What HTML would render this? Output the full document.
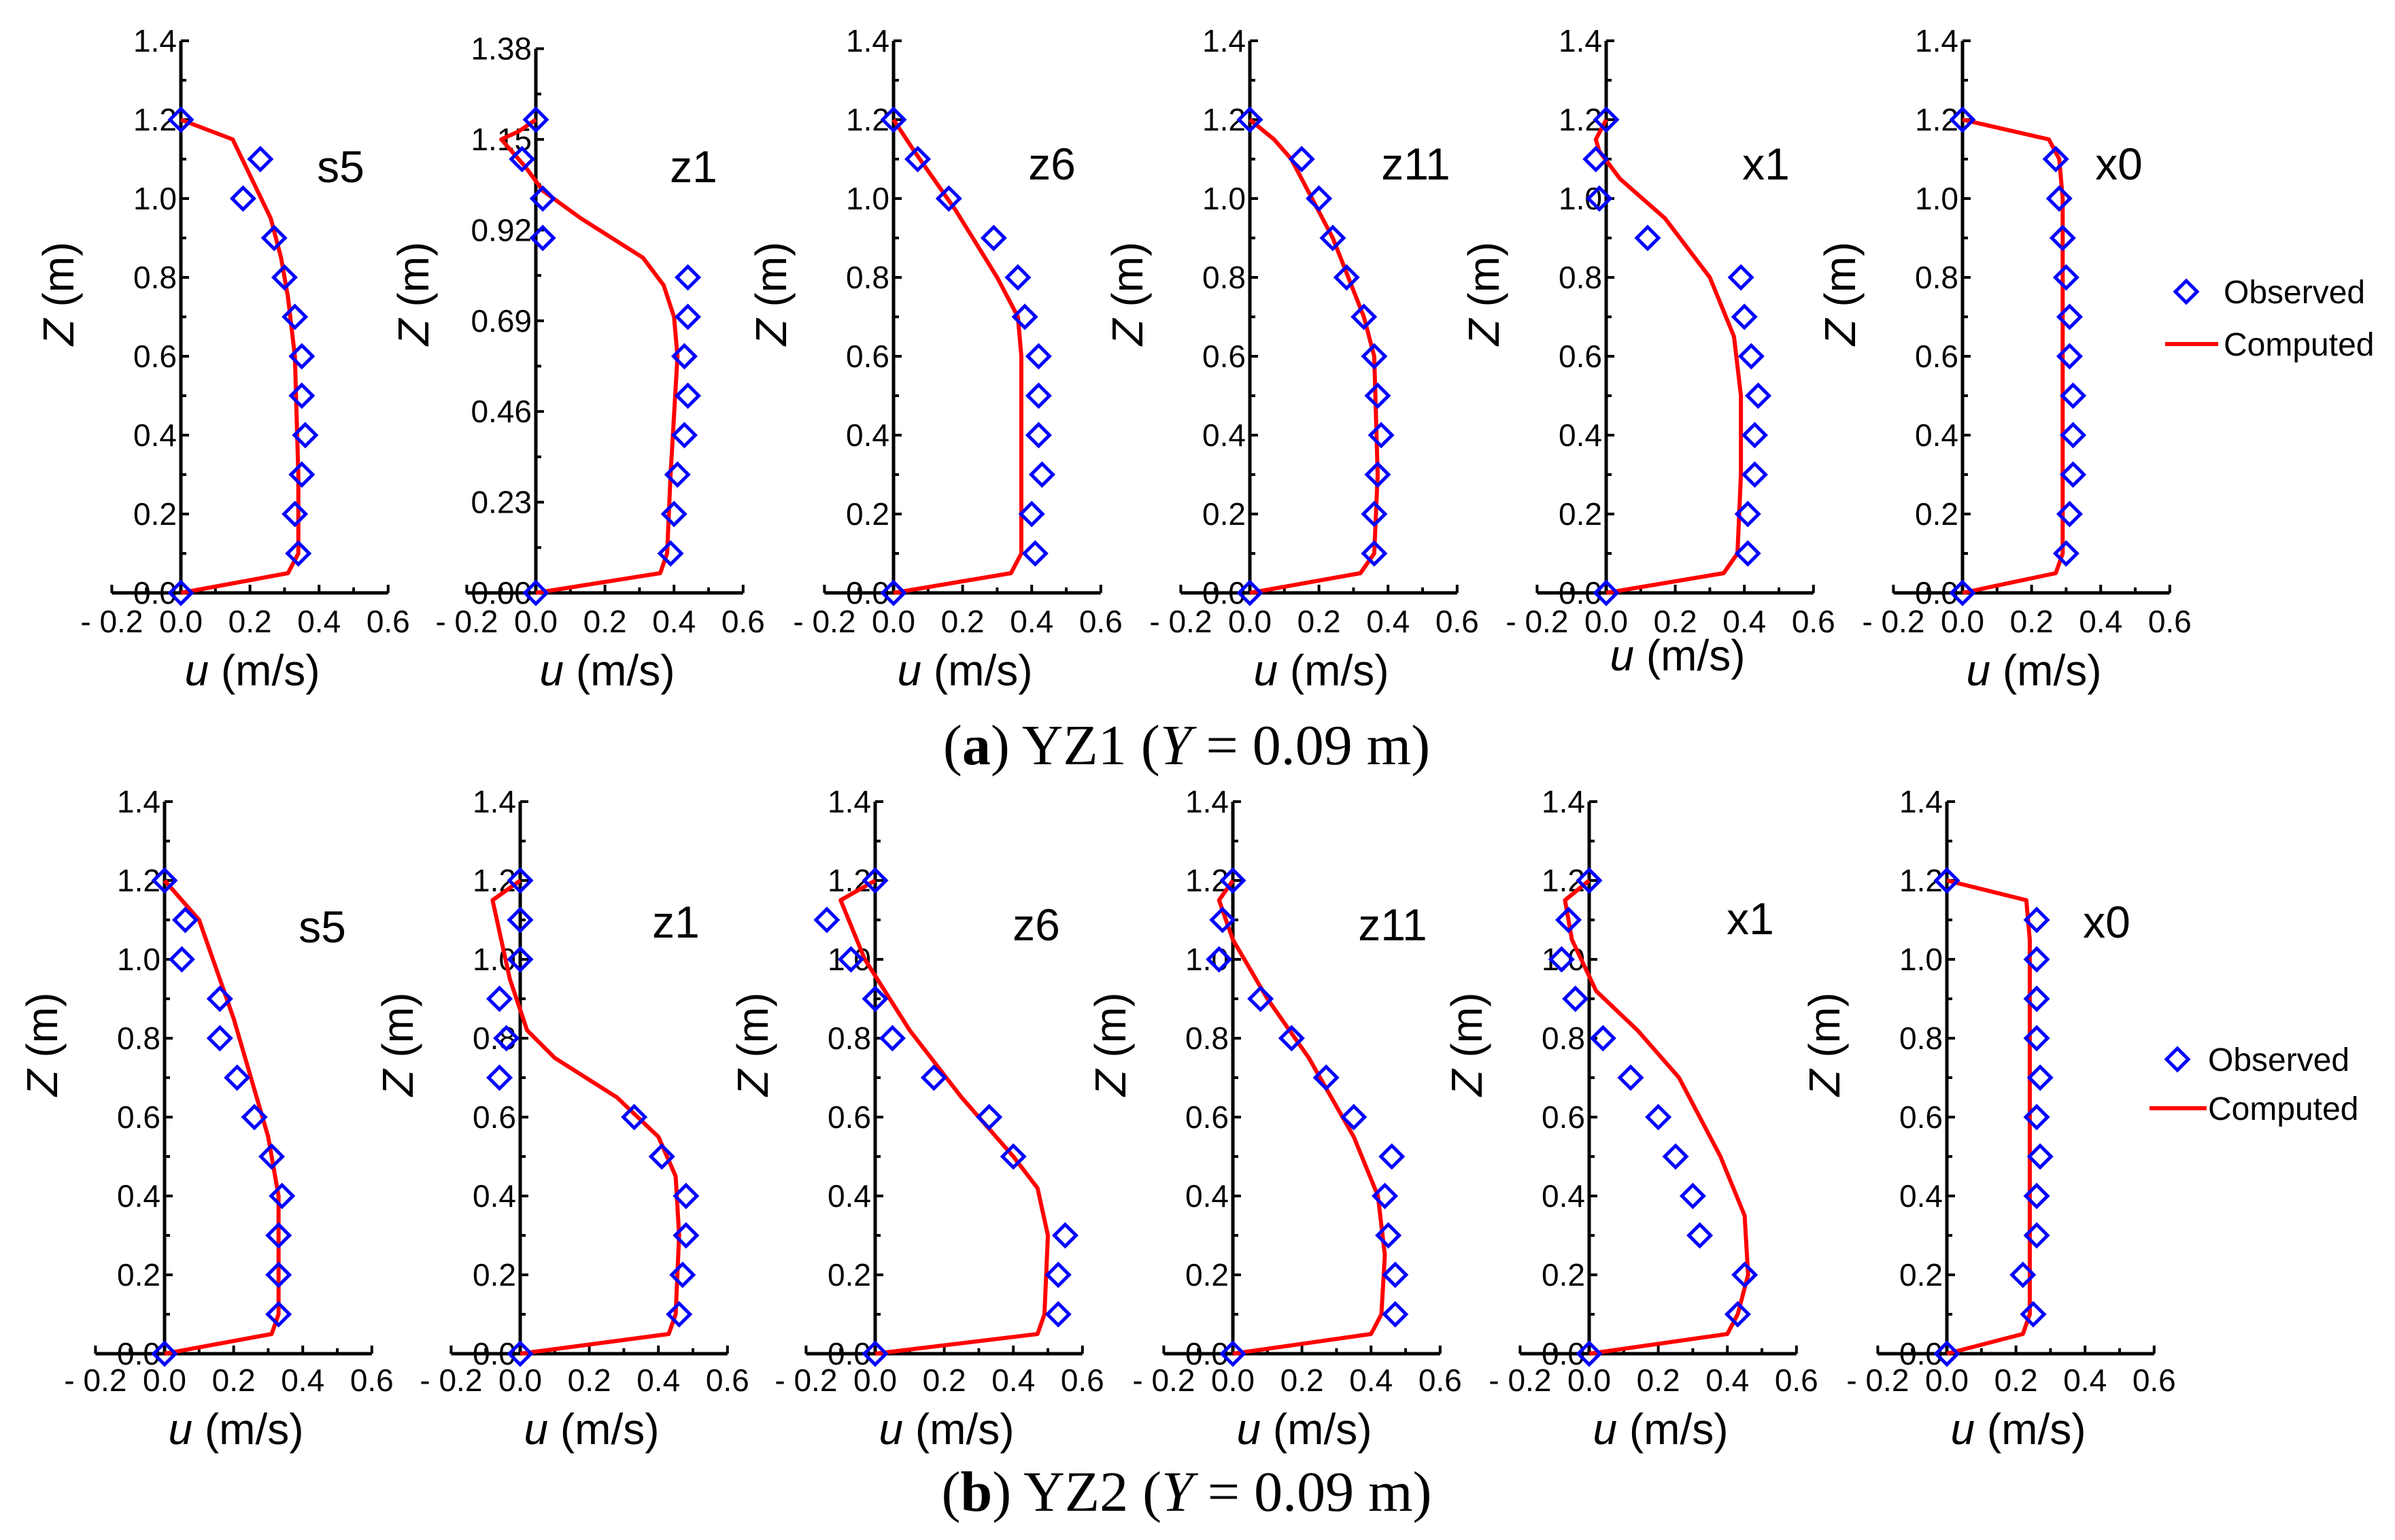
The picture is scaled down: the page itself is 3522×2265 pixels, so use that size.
<!DOCTYPE html>
<html><head><meta charset="utf-8"><style>
html,body{margin:0;padding:0;background:#fff;}
svg{display:block;font-family:"Liberation Sans",Arial,sans-serif;}
</style></head><body>
<svg id="fig" width="3522" height="2265" viewBox="0 0 3522 2265" xmlns="http://www.w3.org/2000/svg"></svg>
<script>
// ---- data ----
const panelNames = ["s5","z1","z6","z11","x1","x0"];
const obsZ = [1.2,1.1,1.0,0.9,0.8,0.7,0.6,0.5,0.4,0.3,0.2,0.1,0.0];
const obsZ_b_z6 = [1.2,1.1,1.0,0.9,0.8,0.7,0.6,0.5,0.3,0.2,0.1,0.0];
const obsA_s5 = [0,0.23,0.18,0.27,0.30,0.33,0.35,0.35,0.36,0.35,0.33,0.34,0];
const obsA_z1 = [0,-0.04,0.02,0.02,0.44,0.44,0.43,0.44,0.43,0.41,0.40,0.39,0];
const obsA_z6 = [0,0.07,0.16,0.29,0.36,0.38,0.42,0.42,0.42,0.43,0.40,0.41,0];
const obsA_z11 = [0,0.15,0.20,0.24,0.28,0.33,0.36,0.37,0.38,0.37,0.36,0.36,0];
const obsA_x1 = [0,-0.03,-0.02,0.12,0.39,0.40,0.42,0.44,0.43,0.43,0.41,0.41,0];
const obsA_x0 = [0,0.27,0.28,0.29,0.30,0.31,0.31,0.32,0.32,0.32,0.31,0.30,0];
const obsB_s5 = [0,0.06,0.05,0.16,0.16,0.21,0.26,0.31,0.34,0.33,0.33,0.33,0];
const obsB_z1 = [0,0,0,-0.06,-0.04,-0.06,0.33,0.41,0.48,0.48,0.47,0.46,0];
const obsB_z6 = [0,-0.14,-0.07,0,0.05,0.17,0.33,0.40,0.55,0.53,0.53,0];
const obsB_z11 = [0,-0.03,-0.04,0.08,0.17,0.27,0.35,0.46,0.44,0.45,0.47,0.47,0];
const obsB_x1 = [0,-0.06,-0.08,-0.04,0.04,0.12,0.20,0.25,0.30,0.32,0.45,0.43,0];
const obsB_x0 = [0,0.26,0.26,0.26,0.26,0.27,0.26,0.27,0.26,0.26,0.22,0.25,0];
const compA_s5_u = [0,0.31,0.34,0.34,0.33,0.31,0.29,0.26,0.15,0];
const compA_s5_z = [0,0.05,0.1,0.3,0.6,0.75,0.85,0.95,1.15,1.2];
const compA_z1_u = [0,0.36,0.38,0.39,0.41,0.40,0.37,0.31,0.13,0.02,-0.03,-0.10,-0.05,0];
const compA_z1_z = [0,0.05,0.1,0.3,0.6,0.7,0.78,0.85,0.95,1.02,1.08,1.15,1.17,1.2];
const compA_z6_u = [0,0.34,0.37,0.37,0.37,0.36,0.30,0.18,0.06,0];
const compA_z6_z = [0,0.05,0.1,0.3,0.6,0.7,0.8,0.97,1.12,1.2];
const compA_z11_u = [0,0.32,0.36,0.37,0.36,0.33,0.24,0.12,0.07,0];
const compA_z11_z = [0,0.05,0.1,0.3,0.6,0.7,0.9,1.1,1.15,1.2];
const compA_x1_u = [0,0.34,0.38,0.39,0.39,0.37,0.30,0.17,0.04,-0.02,-0.03,0];
const compA_x1_z = [0,0.05,0.1,0.3,0.5,0.65,0.8,0.95,1.05,1.12,1.15,1.2];
const compA_x0_u = [0,0.27,0.29,0.29,0.29,0.28,0.25,0];
const compA_x0_z = [0,0.05,0.1,0.5,1.0,1.1,1.15,1.2];
const compB_s5_u = [0,0.31,0.33,0.33,0.30,0.25,0.20,0.14,0.10,0.05,0];
const compB_s5_z = [0,0.05,0.1,0.4,0.55,0.7,0.85,1.0,1.1,1.15,1.2];
const compB_z1_u = [0,0.43,0.45,0.46,0.45,0.40,0.28,0.10,0.02,-0.03,-0.08,0];
const compB_z1_z = [0,0.05,0.1,0.3,0.45,0.55,0.65,0.75,0.82,0.95,1.15,1.2];
const compB_z6_u = [0,0.47,0.49,0.50,0.47,0.40,0.25,0.10,-0.03,-0.10,0];
const compB_z6_z = [0,0.05,0.1,0.3,0.42,0.5,0.65,0.82,1.0,1.15,1.2];
const compB_z11_u = [0,0.40,0.43,0.44,0.42,0.35,0.22,0.10,0,-0.04,0];
const compB_z11_z = [0,0.05,0.1,0.25,0.4,0.55,0.75,0.9,1.05,1.15,1.2];
const compB_x1_u = [0,0.40,0.43,0.46,0.45,0.38,0.26,0.14,0.02,-0.05,-0.07,0];
const compB_x1_z = [0,0.05,0.1,0.2,0.35,0.5,0.7,0.82,0.92,1.05,1.15,1.2];
const compB_x0_u = [0,0.22,0.24,0.24,0.23,0];
const compB_x0_z = [0,0.05,0.1,1.05,1.15,1.2];
const xTickVals = [-0.2,0,0.2,0.4,0.6];
const xTickLabels = ["- 0.2","0.0","0.2","0.4","0.6"];
const yTickVals = [0,0.2,0.4,0.6,0.8,1.0,1.2,1.4];
const yTickLabels = ["0.0","0.2","0.4","0.6","0.8","1.0","1.2","1.4"];
const yTickValsZ1 = [0,0.23,0.46,0.69,0.92,1.15,1.38];
const yTickLabelsZ1 = ["0.00","0.23","0.46","0.69","0.92","1.15","1.38"];

// ---- layout ----
const NS="http://www.w3.org/2000/svg";
const svg=document.getElementById('fig');
const XS=508, YS=580;
function mk(tag,attrs,parent){const e=document.createElementNS(NS,tag);for(const k in attrs)e.setAttribute(k,attrs[k]);(parent||svg).appendChild(e);return e;}
function txt(s,attrs,parent){const e=mk('text',attrs,parent);e.textContent=s;return e;}

const rows=[
 {y0:872, axX:[266,788,1314,1838,2362,2886], tickY:930, labY:1008,
  obs:[[obsZ,obsA_s5],[obsZ,obsA_z1],[obsZ,obsA_z6],[obsZ,obsA_z11],[obsZ,obsA_x1],[obsZ,obsA_x0]],
  comp:[[compA_s5_u,compA_s5_z],[compA_z1_u,compA_z1_z],[compA_z6_u,compA_z6_z],[compA_z11_u,compA_z11_z],[compA_x1_u,compA_x1_z],[compA_x0_u,compA_x0_z]],
  titles:[[501,244],[1020,244],[1547,240],[2082,240],[2597,240],[3116,240]], name:'a'},
 {y0:1991, axX:[242,765,1287,1813,2337,2863], tickY:2046, labY:2124,
  obs:[[obsZ,obsB_s5],[obsZ,obsB_z1],[obsZ_b_z6,obsB_z6],[obsZ,obsB_z11],[obsZ,obsB_x1],[obsZ,obsB_x0]],
  comp:[[compB_s5_u,compB_s5_z],[compB_z1_u,compB_z1_z],[compB_z6_u,compB_z6_z],[compB_z11_u,compB_z11_z],[compB_x1_u,compB_x1_z],[compB_x0_u,compB_x0_z]],
  titles:[[474,1362],[994,1355],[1524,1359],[2048,1359],[2574,1350],[3098,1355]], name:'b'}
];

rows.forEach((row,ri)=>{
 row.axX.forEach((ax,pi)=>{
  const g=mk('g',{});
  
  
  const X=u=>ax+u*XS, Y=z=>row.y0-z*YS;
  const isZ1 = (ri===0 && pi===1);
  const yv = isZ1?yTickValsZ1:yTickVals, yl=isZ1?yTickLabelsZ1:yTickLabels;
  const top = isZ1?1.38:1.4;
  const xa=mk('line',{x1:X(-0.2),x2:X(0.6),y1:row.y0,y2:row.y0,stroke:'#000','stroke-width':5},g);
  
  
  const ya=mk('line',{x1:ax,x2:ax,y1:Y(top),y2:row.y0,stroke:'#000','stroke-width':5},g);
  
  
  for(let t=-0.2;t<=0.601;t+=0.1){const maj=Math.abs(Math.round(t*10))%2===0;
   mk('line',{x1:X(t),x2:X(t),y1:row.y0,y2:row.y0-(maj?12:8),stroke:'#000','stroke-width':4},g);}
  if(isZ1){for(let i=0;i<=12;i++){const z=i*0.115;const maj=i%2===0;
   mk('line',{x1:ax,x2:ax+(maj?12:8),y1:Y(z),y2:Y(z),stroke:'#000','stroke-width':4},g);}}
  else{for(let i=0;i<=14;i++){const maj=i%2===0;
   mk('line',{x1:ax,x2:ax+(maj?12:8),y1:Y(i*0.1),y2:Y(i*0.1),stroke:'#000','stroke-width':4},g);}}
  xTickVals.forEach((v,i)=>{const t=txt(xTickLabels[i],{x:X(v),y:row.tickY,'font-size':46,'text-anchor':'middle',fill:'#000'},g);
   
   });
  yv.forEach((v,i)=>{const t=txt(yl[i],{x:ax-6,y:Y(v)+16,'font-size':46,'text-anchor':'end',fill:'#000'},g);
   
   });
  const xt=mk('text',{x:ax+105,y:row.labY - ((ri===0&&pi===4)?22:0),'font-size':64,'text-anchor':'middle',fill:'#000'},g);
  xt.innerHTML='<tspan font-style="italic">u</tspan> (m/s)';
  
  
  const cy=row.y0-(ri===0?440:455);
  const yt=mk('text',{x:0,y:0,'font-size':64,'text-anchor':'middle',fill:'#000',transform:'translate('+(ax-158)+','+cy+') rotate(-90)'},g);
  yt.innerHTML='<tspan font-style="italic">Z</tspan> (m)';
  
  
  const tt=txt(panelNames[pi],{x:row.titles[pi][0],y:row.titles[pi][1]+24,'font-size':66,'text-anchor':'middle',fill:'#000'},g);
  
  
  const cu=row.comp[pi][0], cz=row.comp[pi][1];
  const pl=mk('polyline',{points:cu.map((u,i)=>X(u)+','+Y(cz[i])).join(' '),fill:'none',stroke:'#ff0000','stroke-width':6,'stroke-linejoin':'round'},g);
  
  
  const oz=row.obs[pi][0], ou=row.obs[pi][1];
  ou.forEach((u,i)=>{const x=X(u),y=Y(oz[i]),r=16;
   const d=mk('polygon',{points:`${x},${y-r} ${x+r},${y} ${x},${y+r} ${x-r},${y}`,fill:'#fff','fill-opacity':0,stroke:'#0000ff','stroke-width':5},g);
   
   });
 });
});
[[3215,429,3184,3262,506,3270],[3202,1558,3161,3245,1630,3247]].forEach((L,i)=>{
 const g=mk('g',{});
 
 
 const r=16;
 mk('polygon',{points:`${L[0]},${L[1]-r} ${L[0]+r},${L[1]} ${L[0]},${L[1]+r} ${L[0]-r},${L[1]}`,fill:'none',stroke:'#0000ff','stroke-width':5},g);
 const t1=txt('Observed',{x:L[5],y:L[1]+17,'font-size':48,fill:'#000'},g);
 
 
 mk('line',{x1:L[2],x2:L[3],y1:L[4],y2:L[4],stroke:'#ff0000','stroke-width':6},g);
 const t2=txt('Computed',{x:L[5],y:L[4]+17,'font-size':48,fill:'#000'},g);
 
 
});
[['a','YZ1',1124],['b','YZ2',2222]].forEach(c=>{
 const t=mk('text',{x:1745,y:c[2],'font-size':84,'text-anchor':'middle',fill:'#000','font-family':'"Liberation Serif",serif'});
 t.innerHTML='(<tspan font-weight="bold">'+c[0]+'</tspan>) '+c[1]+' (<tspan font-style="italic">Y</tspan> = 0.09 m)';
 
 
});
</script>
</body></html>
